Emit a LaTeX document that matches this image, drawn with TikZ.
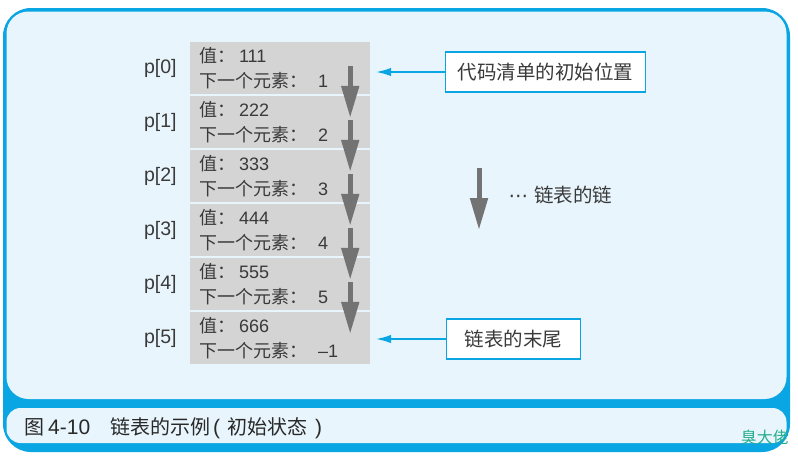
\documentclass[tikz,border=0pt]{standalone}
\usepackage{fontspec}
\setmainfont{Liberation Sans}
\newfontfamily\cjk{Noto Sans CJK SC}
\newfontfamily\simbolo{DejaVu Sans}
\usetikzlibrary{arrows.meta,positioning}

\definecolor{marco}{HTML}{0AA5E3}
\definecolor{fondo}{HTML}{E8F5FC}
\definecolor{celda}{HTML}{D4D4D4}
\definecolor{flecha}{HTML}{737373}
\definecolor{texto}{HTML}{3A3A3A}
\definecolor{sello}{HTML}{26AE8C}

\newcommand{\pie}[1]{{\cjk\fontsize{20}{22}\selectfont #1}}

\tikzset{
    celdabox/.style={fill=celda, minimum width=180pt, minimum height=52pt,
        text width=162pt, align=left, inner xsep=9pt, inner ysep=0pt,
        text=texto, font=\fontsize{18}{25}\selectfont},
    plabel/.style={text=texto, font=\fontsize{19.5}{22}\selectfont, inner sep=0pt},
    nota/.style={draw=marco, line width=1.2pt, fill=white, inner xsep=12pt,
        minimum height=40pt, text=texto, font=\cjk\fontsize{19.5}{22}\selectfont},
    enlace/.style={-{Triangle[width=17pt,length=32pt]}, line width=5pt, draw=flecha},
    puntero/.style={-{Latex[width=8.5pt,length=16pt]}, line width=2.5pt, draw=marco},
}

\begin{document}
\begin{tikzpicture}[x=1pt,y=-1pt]
    \useasboundingbox (0,0) rectangle (798,456);

    % Marco exterior y paneles.
    \fill[marco, rounded corners=28pt] (3,8) rectangle (790,452);
    \fill[fondo, rounded corners=22pt] (6.5,11.5) rectangle (786.5,399);
    \fill[fondo, rounded corners=14pt] (6.5,408) rectangle (786.5,443);

    % Celdas de la lista p[0] ... p[5].
    \foreach \v/\n [count=\i from 0] in {111/1,222/2,333/3,444/4,555/5,666/{–1}} {
        \node[celdabox] (c\i) at (280,68+54*\i)
            {{\cjk 值：}\hspace{4pt}\v\\{\cjk 下一个元素：}\hspace{11pt}\n};
        \node[plabel, left=13pt of c\i] (p\i) {p[\i]};
    }

    % Flechas entre celdas consecutivas.
    \foreach \i [evaluate=\i as \j using int(\i+1)] in {0,...,4} {
        \draw[enlace] ([xshift=-20pt,yshift=-24pt]c\i.north east)
            -- ([xshift=-20pt,yshift=-22pt]c\j.north east);
    }

    % Notas con sus flechas.
    \node[nota, anchor=west] (inicio) at (445,72) {代码清单的初始位置};
    \draw[puntero] (inicio.west) -- ([xshift=5pt]c0.east |- inicio.west);

    \node[nota, anchor=west, minimum width=134pt] (final) at (446,339) {链表的末尾};
    \draw[puntero] (final.west) -- ([xshift=5pt]c5.east |- final.west);

    % Leyenda de la flecha.
    \coordinate (ejeA) at (479,168);
    \coordinate (ejeB) at (479,230);
    \draw[enlace] (ejeA) -- (ejeB);
    \node[anchor=west, text=texto, font=\fontsize{19.5}{22}\selectfont] (leyenda) at (505,195)
        {{\simbolo ⋯}\hspace{6pt}{\cjk 链表的链}};

    % Pie de figura.
    \node[anchor=west, inner sep=0pt, text=texto!70!black, font=\fontsize{21}{22}\selectfont] (titulo) at (24,428)
        {\pie{图}\hspace{4pt}4-10\hspace{20pt}\pie{链表的示例}\hspace{3pt}(\hspace{7pt}\pie{初始状态}\hspace{8pt})};
    \node[anchor=east, text=sello, font=\cjk\fontsize{16}{18}\selectfont, inner sep=0pt] (marca) at (789,437) {臭大佬};
\end{tikzpicture}
\end{document}
